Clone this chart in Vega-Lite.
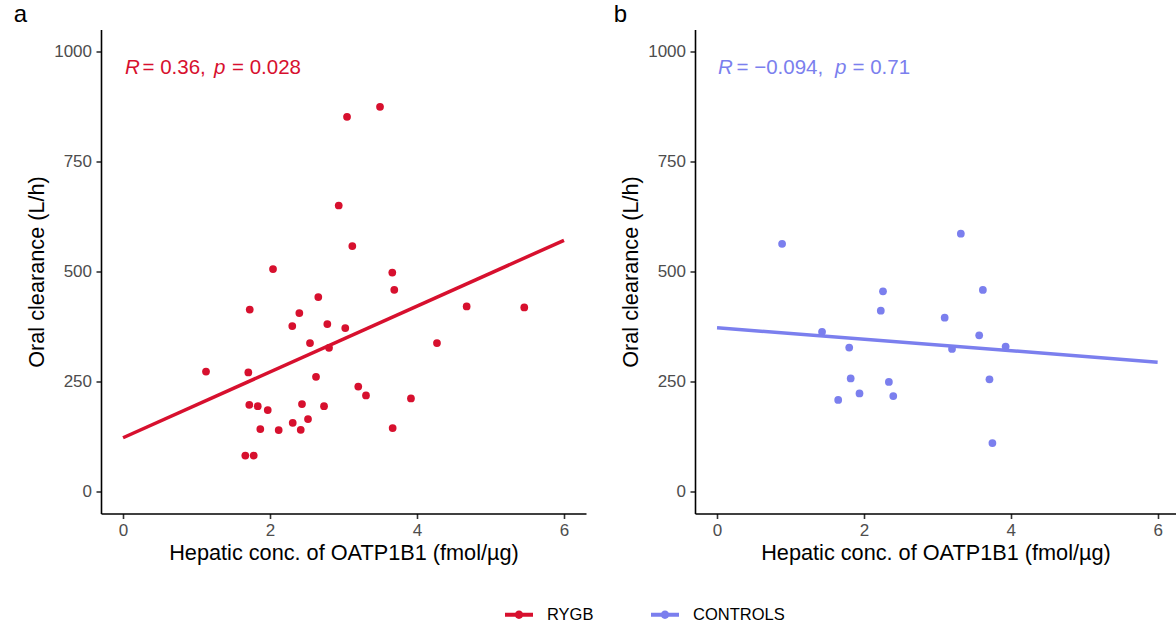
{
  "$schema": "https://vega.github.io/schema/vega-lite/v6.json",
  "background": "white",
  "padding": {"left": 13, "top": 2.5, "right": 0, "bottom": 0},
  "spacing": 27,
  "config": {
    "view": {"stroke": null},
    "font": "Liberation Sans",
    "axis": {
      "domainColor": "black", "domainWidth": 1.6,
      "tickColor": "#333333", "tickWidth": 1.6, "tickSize": 5,
      "labelColor": "#4D4D4D", "labelFontSize": 17, "labelFont": "Liberation Sans",
      "titleFont": "Liberation Sans", "titleFontSize": 21.7, "titleFontWeight": "normal", "titleColor": "black",
      "grid": false, "format": "d"
    },
    "axisX": {"titlePadding": 4, "labelPadding": 4},
    "axisY": {"titlePadding": 5, "labelPadding": 4.5},
    "title": {"fontSize": 24, "fontWeight": "normal", "font": "Liberation Sans", "anchor": "start", "frame": "bounds", "color": "black", "offset": 3},
    "legend": {
      "orient": "none", "legendX": 404, "legendY": 571, "direction": "horizontal", "title": null,
      "symbolType": "M-1,-0.15L1,-0.15L1,0.15L-1,0.15Z M0.3,0A0.3,0.3 0 1,1 -0.3,0A0.3,0.3 0 1,1 0.3,0Z",
      "symbolSize": 784, "symbolStrokeWidth": 0, "labelFontSize": 16.5, "labelColor": "black",
      "labelFont": "Liberation Sans", "labelOffset": 14, "columnPadding": 57
    }
  },
  "datasets": {
    "pts": [
      {"group": "RYGB", "x": 1.129, "y": 272.7},
      {"group": "RYGB", "x": 1.724, "y": 413.6},
      {"group": "RYGB", "x": 1.705, "y": 270.5},
      {"group": "RYGB", "x": 1.718, "y": 197},
      {"group": "RYGB", "x": 1.833, "y": 194},
      {"group": "RYGB", "x": 1.969, "y": 185},
      {"group": "RYGB", "x": 1.868, "y": 141.8},
      {"group": "RYGB", "x": 2.118, "y": 139.5},
      {"group": "RYGB", "x": 1.664, "y": 81.8},
      {"group": "RYGB", "x": 1.778, "y": 81.8},
      {"group": "RYGB", "x": 2.303, "y": 375.9},
      {"group": "RYGB", "x": 2.399, "y": 405.5},
      {"group": "RYGB", "x": 2.657, "y": 441.8},
      {"group": "RYGB", "x": 2.78, "y": 380.5},
      {"group": "RYGB", "x": 2.544, "y": 337.3},
      {"group": "RYGB", "x": 2.803, "y": 326.6},
      {"group": "RYGB", "x": 2.626, "y": 260.7},
      {"group": "RYGB", "x": 2.435, "y": 198.6},
      {"group": "RYGB", "x": 2.735, "y": 194},
      {"group": "RYGB", "x": 2.309, "y": 156.1},
      {"group": "RYGB", "x": 2.517, "y": 164.5},
      {"group": "RYGB", "x": 2.418, "y": 140.2},
      {"group": "RYGB", "x": 3.024, "y": 371.4},
      {"group": "RYGB", "x": 3.201, "y": 238.6},
      {"group": "RYGB", "x": 3.306, "y": 218.2},
      {"group": "RYGB", "x": 3.669, "y": 144.1},
      {"group": "RYGB", "x": 3.691, "y": 458.4},
      {"group": "RYGB", "x": 2.041, "y": 505.5},
      {"group": "RYGB", "x": 2.935, "y": 650},
      {"group": "RYGB", "x": 3.12, "y": 557.7},
      {"group": "RYGB", "x": 3.664, "y": 497.7},
      {"group": "RYGB", "x": 3.048, "y": 851.6},
      {"group": "RYGB", "x": 3.497, "y": 874.3},
      {"group": "RYGB", "x": 3.918, "y": 211.4},
      {"group": "RYGB", "x": 4.272, "y": 337.3},
      {"group": "RYGB", "x": 4.676, "y": 420.5},
      {"group": "RYGB", "x": 5.46, "y": 418.2},
      {"group": "CONTROLS", "x": 0.886, "y": 563},
      {"group": "CONTROLS", "x": 3.32, "y": 586},
      {"group": "CONTROLS", "x": 2.26, "y": 455},
      {"group": "CONTROLS", "x": 3.62, "y": 458},
      {"group": "CONTROLS", "x": 2.23, "y": 411},
      {"group": "CONTROLS", "x": 3.1, "y": 395},
      {"group": "CONTROLS", "x": 1.43, "y": 363},
      {"group": "CONTROLS", "x": 3.57, "y": 355},
      {"group": "CONTROLS", "x": 1.8, "y": 327},
      {"group": "CONTROLS", "x": 3.2, "y": 324},
      {"group": "CONTROLS", "x": 1.82, "y": 257},
      {"group": "CONTROLS", "x": 2.34, "y": 249},
      {"group": "CONTROLS", "x": 3.71, "y": 255},
      {"group": "CONTROLS", "x": 1.94, "y": 223},
      {"group": "CONTROLS", "x": 2.4, "y": 217},
      {"group": "CONTROLS", "x": 1.65, "y": 208},
      {"group": "CONTROLS", "x": 3.75, "y": 110},
      {"group": "CONTROLS", "x": 3.93, "y": 329.5}
    ],
    "stats": [
      {"group": "RYGB", "r": "= 0.36,", "p": "= 0.028"},
      {"group": "CONTROLS", "r": "= \u22120.094,", "p": "= 0.71"}
    ]
  },
  "hconcat": [
    {
      "title": {"text": "a", "dx": -13},
      "width": 485, "height": 484,
      "layer": [
        {
          "data": {"name": "pts"},
          "transform": [{"filter": "datum.group === 'RYGB'"}],
          "mark": {"type": "point", "filled": true, "size": 60, "opacity": 1},
          "encoding": {
            "x": {"field": "x", "type": "quantitative", "scale": {"domain": [-0.3, 6.3], "nice": false, "zero": false}, "axis": {"values": [0, 2, 4, 6], "title": "Hepatic conc. of OATP1B1 (fmol/µg)"}},
            "y": {"field": "y", "type": "quantitative", "scale": {"domain": [-50, 1050], "nice": false, "zero": false}, "axis": {"values": [0, 250, 500, 750, 1000], "title": "Oral clearance (L/h)"}},
            "color": {"field": "group", "type": "nominal", "scale": {"domain": ["RYGB", "CONTROLS"], "range": ["#D7102E", "#7B7FEE"]}}
          }
        },
        {
          "data": {"name": "pts"},
          "transform": [{"filter": "datum.group === 'RYGB'"}, {"regression": "y", "on": "x", "groupby": ["group"], "extent": [0, 6]}],
          "mark": {"type": "line", "strokeWidth": 3.5},
          "encoding": {
            "x": {"field": "x", "type": "quantitative"},
            "y": {"field": "y", "type": "quantitative"},
            "color": {"field": "group", "type": "nominal"}
          }
        },
        {
          "data": {"name": "stats"},
          "transform": [{"filter": "datum.group === 'RYGB'"}],
          "mark": {"type": "text", "text": "R", "fontStyle": "italic", "fontSize": 20.5, "align": "left", "baseline": "middle", "dx": 2, "color": "#D7102E"},
          "encoding": {"x": {"datum": 0, "type": "quantitative"}, "y": {"datum": 962, "type": "quantitative"}}
        },
        {
          "data": {"name": "stats"},
          "transform": [{"filter": "datum.group === 'RYGB'"}],
          "mark": {"type": "text", "fontSize": 20.5, "align": "left", "baseline": "middle", "dx": 19.5, "color": "#D7102E"},
          "encoding": {"x": {"datum": 0, "type": "quantitative"}, "y": {"datum": 962, "type": "quantitative"}, "text": {"field": "r"}}
        },
        {
          "data": {"name": "stats"},
          "transform": [{"filter": "datum.group === 'RYGB'"}],
          "mark": {"type": "text", "text": "p", "fontStyle": "italic", "fontSize": 20.5, "align": "left", "baseline": "middle", "dx": 91, "color": "#D7102E"},
          "encoding": {"x": {"datum": 0, "type": "quantitative"}, "y": {"datum": 962, "type": "quantitative"}}
        },
        {
          "data": {"name": "stats"},
          "transform": [{"filter": "datum.group === 'RYGB'"}],
          "mark": {"type": "text", "fontSize": 20.5, "align": "left", "baseline": "middle", "dx": 109, "color": "#D7102E"},
          "encoding": {"x": {"datum": 0, "type": "quantitative"}, "y": {"datum": 962, "type": "quantitative"}, "text": {"field": "p"}}
        }
      ]
    },
    {
      "title": {"text": "b", "dx": -7},
      "width": 481, "height": 484,
      "layer": [
        {
          "data": {"name": "pts"},
          "transform": [{"filter": "datum.group === 'CONTROLS'"}],
          "mark": {"type": "point", "filled": true, "size": 60, "opacity": 1},
          "encoding": {
            "x": {"field": "x", "type": "quantitative", "scale": {"domain": [-0.3, 6.25], "nice": false, "zero": false}, "axis": {"values": [0, 2, 4, 6], "title": "Hepatic conc. of OATP1B1 (fmol/µg)"}},
            "y": {"field": "y", "type": "quantitative", "scale": {"domain": [-50, 1050], "nice": false, "zero": false}, "axis": {"values": [0, 250, 500, 750, 1000], "title": "Oral clearance (L/h)"}},
            "color": {"field": "group", "type": "nominal", "scale": {"domain": ["RYGB", "CONTROLS"], "range": ["#D7102E", "#7B7FEE"]}}
          }
        },
        {
          "data": {"name": "pts"},
          "transform": [{"filter": "datum.group === 'CONTROLS'"}, {"regression": "y", "on": "x", "groupby": ["group"], "extent": [0, 6]}],
          "mark": {"type": "line", "strokeWidth": 3.5},
          "encoding": {
            "x": {"field": "x", "type": "quantitative"},
            "y": {"field": "y", "type": "quantitative"},
            "color": {"field": "group", "type": "nominal"}
          }
        },
        {
          "data": {"name": "stats"},
          "transform": [{"filter": "datum.group === 'CONTROLS'"}],
          "mark": {"type": "text", "text": "R", "fontStyle": "italic", "fontSize": 20.5, "align": "left", "baseline": "middle", "dx": 1, "color": "#7B7FEE"},
          "encoding": {"x": {"datum": 0, "type": "quantitative"}, "y": {"datum": 962, "type": "quantitative"}}
        },
        {
          "data": {"name": "stats"},
          "transform": [{"filter": "datum.group === 'CONTROLS'"}],
          "mark": {"type": "text", "fontSize": 20.5, "align": "left", "baseline": "middle", "dx": 19.5, "color": "#7B7FEE"},
          "encoding": {"x": {"datum": 0, "type": "quantitative"}, "y": {"datum": 962, "type": "quantitative"}, "text": {"field": "r"}}
        },
        {
          "data": {"name": "stats"},
          "transform": [{"filter": "datum.group === 'CONTROLS'"}],
          "mark": {"type": "text", "text": "p", "fontStyle": "italic", "fontSize": 20.5, "align": "left", "baseline": "middle", "dx": 118, "color": "#7B7FEE"},
          "encoding": {"x": {"datum": 0, "type": "quantitative"}, "y": {"datum": 962, "type": "quantitative"}}
        },
        {
          "data": {"name": "stats"},
          "transform": [{"filter": "datum.group === 'CONTROLS'"}],
          "mark": {"type": "text", "fontSize": 20.5, "align": "left", "baseline": "middle", "dx": 135.5, "color": "#7B7FEE"},
          "encoding": {"x": {"datum": 0, "type": "quantitative"}, "y": {"datum": 962, "type": "quantitative"}, "text": {"field": "p"}}
        }
      ]
    }
  ],
  "resolve": {"scale": {"x": "independent", "y": "independent", "color": "shared"}}
}
